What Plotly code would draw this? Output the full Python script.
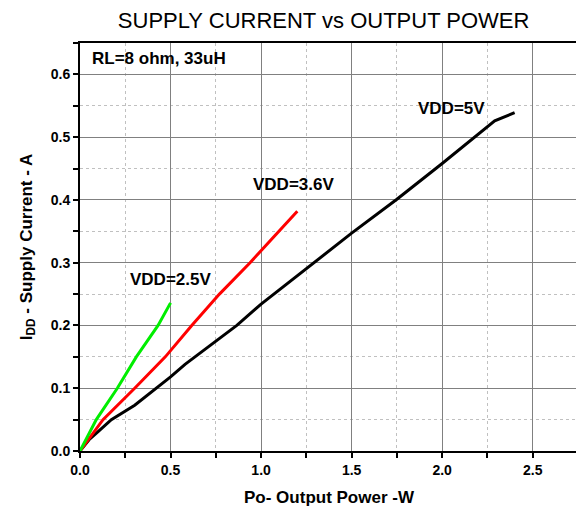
import plotly.graph_objects as go

# Data
p_5v = [0.0, 0.05, 0.1, 0.173, 0.302, 0.424, 0.5, 0.58, 0.707, 0.866, 1.0, 1.271, 1.38, 1.5, 1.75, 2.0, 2.29, 2.40]
i_5v = [0.0, 0.018, 0.031, 0.05, 0.073, 0.1, 0.118, 0.138, 0.165, 0.2, 0.234, 0.295, 0.32, 0.347, 0.401, 0.458, 0.526, 0.539]

p_36v = [0.0, 0.127, 0.302, 0.471, 0.617, 0.77, 0.939, 1.087, 1.2]
i_36v = [0.0, 0.05, 0.1, 0.15, 0.2, 0.25, 0.3, 0.346, 0.382]

p_25v = [0.0, 0.09, 0.206, 0.311, 0.431, 0.5]
i_25v = [0.0, 0.05, 0.1, 0.15, 0.2, 0.236]

series_names = ["VDD=5V", "VDD=3.6V", "VDD=2.5V"]
series_colors = ["#000000", "#ff0000", "#00ee00"]

FONT = "Liberation Sans, Arial, sans-serif"

fig = go.Figure()
for px_, iy, name, col in zip([p_5v, p_36v, p_25v], [i_5v, i_36v, i_25v], series_names, series_colors):
    fig.add_trace(go.Scatter(x=px_, y=iy, mode="lines", name=name,
                             line=dict(color=col, width=3), showlegend=False))

ann = [
    dict(x=0.055, y=0.626, text="RL=8 ohm, 33uH"),
    dict(x=1.856, y=0.545, text="VDD=5V"),
    dict(x=0.943, y=0.425, text="VDD=3.6V"),
    dict(x=0.267, y=0.274, text="VDD=2.5V"),
]
for a in ann:
    fig.add_annotation(x=a["x"], y=a["y"], text="<b>" + a["text"] + "</b>", showarrow=False,
                       xanchor="left", yanchor="middle",
                       font=dict(family=FONT, size=17, color="black"))

# x-axis title as a paper annotation for exact placement
fig.add_annotation(x=0.5, y=-46 / 408, xref="paper", yref="paper",
                   text="<b>Po- Output Power -W</b>", showarrow=False,
                   xanchor="center", yanchor="middle",
                   font=dict(family=FONT, size=17, color="black"))

axis_common = dict(
    showline=True, linecolor="black", linewidth=2, mirror=True,
    ticks="outside", ticklen=5, tickwidth=1.5, tickcolor="black",
    showgrid=True, gridcolor="#808080", gridwidth=1,
    zeroline=False, tickformat=".1f", automargin=False,
    tickfont=dict(family=FONT, size=14, color="black", weight="bold"),
)

fig.update_xaxes(range=[0, 2.75], dtick=0.5, tick0=0,
                 minor=dict(dtick=0.25, ticks="outside", ticklen=5, tickcolor="black",
                            showgrid=True, gridcolor="#c0c0c0", griddash="dot", gridwidth=1),
                 **axis_common)
fig.update_yaxes(range=[0, 0.65], dtick=0.1, tick0=0,
                 minor=dict(dtick=0.05, ticks="outside", ticklen=5, tickcolor="black",
                            showgrid=True, gridcolor="#c0c0c0", griddash="dot", gridwidth=1),
                 title=dict(text="<b>I<sub>DD</sub> - Supply Current - A</b>", standoff=14,
                            font=dict(family=FONT, size=17, color="black")),
                 **axis_common)

# page body has an 8px default margin, so the figure is sized/offset to compensate
fig.update_layout(
    width=576, height=506,
    margin=dict(l=72, r=6, t=35, b=63),
    paper_bgcolor="white", plot_bgcolor="white",
    title=dict(text="SUPPLY CURRENT vs OUTPUT POWER", x=0.548, xanchor="center",
               y=0.976, yanchor="middle", xref="container", yref="container",
               font=dict(family=FONT, size=22, color="black")),
)

fig.write_html("out.html")
